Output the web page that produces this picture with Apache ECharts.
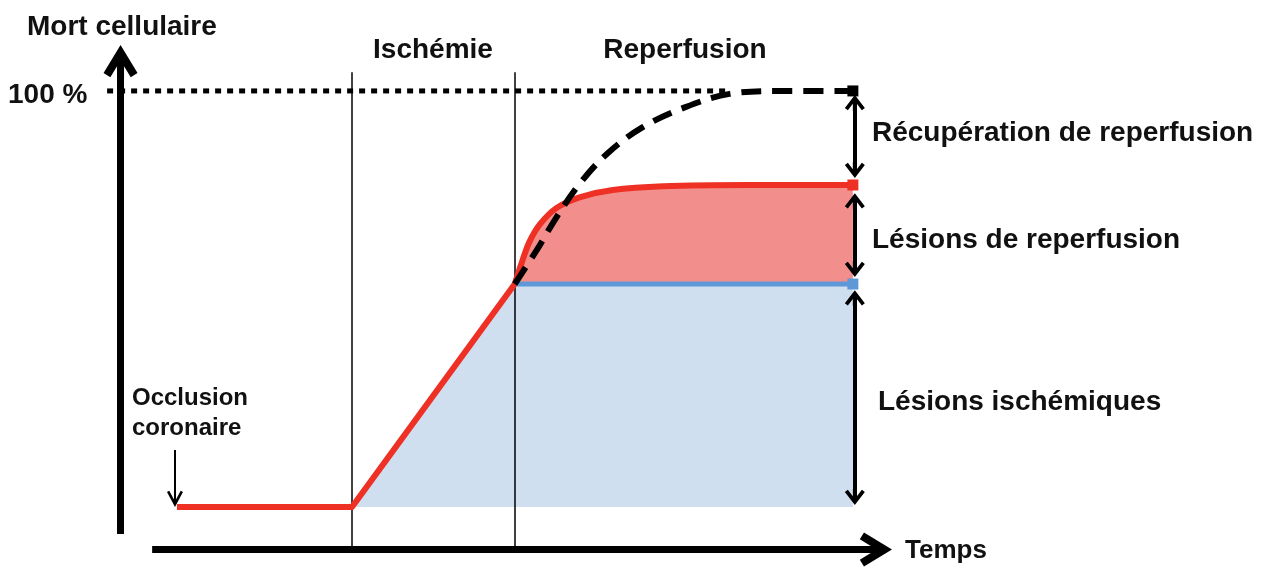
<!DOCTYPE html>
<html>
<head>
<meta charset="utf-8">
<title>Mort cellulaire - ischémie / reperfusion</title>
<script src="https://cdn.jsdelivr.net/npm/echarts@6/dist/echarts.min.js"></script>
<style>
html, body { margin: 0; padding: 0; background: #fff; }
#chart { width: 1271px; height: 569px; }
</style>
</head>
<body>
<div id="chart"></div>
<script>
// temps (unités arbitraires) et mort cellulaire (%)
const ischemiaTime = [9.75, 31.9, 52.5]
const ischemiaDeath = [0, 0, 53.6]

const ischemicFloorTime = [31.9, 52.5, 95.3]
const ischemicFloorDeath = [0, 53.6, 53.6]

const reperfTime = [52.5, 53.5, 54.4, 55.7, 57.8, 60.8, 64.9, 71.3, 81.9, 95.3]
const reperfDeath = [53.6, 59.4, 63.9, 68.0, 71.9, 74.5, 76.2, 77.1, 77.4, 77.4]

const noReperfTime = [52.5, 55.3, 57.8, 60.8, 64.3, 68.7, 74.1, 79.7, 86.5, 95.3]
const noReperfDeath = [53.6, 61.8, 69.7, 77.9, 85.1, 91.3, 96.1, 99.3, 100, 100]

const fullTime = [0.9, 79.5]
const fullDeath = [100, 100]

const phaseStarts = [31.9, 52.5] // début ischémie, début reperfusion

const FONT = '"Liberation Sans", Arial, sans-serif'
const RED = '#ee3124'
const RED_FILL = '#f28f8c'
const BLUE = '#5e98d6'
const BLUE_FILL = '#cfdff0'

const pts = (xs, ys) => xs.map((x, i) => [x, ys[i]])
// small square at the end of a curve
const withCap = (data) => data.map((p, i) =>
  i === data.length - 1 ? { value: p, symbol: 'rect', symbolSize: 11 } : p)

// open chevrons pointing up (with a short stem so the shaft joins cleanly)
const bigHead = {
  path: 'path://M17,0 L34,28 L27.2,32.2 L20.5,21.2 L20.5,34 L13.5,34 L13.5,21.2 L6.8,32.2 L0,28 Z',
  size: [34, 34]
}
const midHead = {
  path: 'path://M10,0 L20,13 L17,15.3 L12,8.8 L12,16 L8,16 L8,8.8 L3,15.3 L0,13 Z',
  size: [20, 16]
}
const smallHead = {
  path: 'path://M8,0 L16,15 L13.7,16.2 L9,7.4 L9,17 L7,17 L7,7.4 L2.3,16.2 L0,15 Z',
  size: [16, 17]
}

const guide = (from, to, width, endHead, startHead) => [
  {
    coord: from,
    symbol: startHead ? startHead.path : 'none',
    symbolSize: startHead ? startHead.size : 1,
    lineStyle: { width: width, color: '#000', type: 'solid' }
  },
  {
    coord: to,
    symbol: endHead ? endHead.path : 'none',
    symbolSize: endHead ? endHead.size : 1
  }
]

const arrowX = 95.55
const guides = [
  guide([2.6, -6.5], [2.6, 106.95], 7, bigHead),      // axe Mort cellulaire
  guide([6.6, -10.2], [98.1, -10.2], 7, bigHead),     // axe Temps
  guide([phaseStarts[0], -10.2], [phaseStarts[0], 104.5], 1.5),
  guide([phaseStarts[1], -10.2], [phaseStarts[1], 104.5], 1.5),
  guide([9.49, 13.7], [9.49, 2.06], 2, smallHead),    // occlusion coronaire
  guide([arrowX, 97.1], [arrowX, 81.0], 4, midHead, midHead),
  guide([arrowX, 73.5], [arrowX, 57.2], 4, midHead, midHead),
  guide([arrowX, 50.2], [arrowX, 2.42], 4, midHead, midHead)
]

const label = (text, x, y, extra) => ({
  type: 'text',
  x: x,
  y: y,
  silent: true,
  style: Object.assign({
    text: text,
    fill: '#111',
    fontFamily: FONT,
    fontWeight: 'bold',
    fontSize: 28,
    align: 'left',
    verticalAlign: 'middle'
  }, extra || {})
})

const chart = echarts.init(document.getElementById('chart'))

const option = {
  animation: false,
  backgroundColor: '#fff',
  grid: { left: 100, top: 41, width: 869, height: 516 },
  xAxis: { type: 'value', min: 0, max: 110, show: false },
  yAxis: { type: 'value', min: -12, max: 112, show: false },
  series: [
    {
      name: 'Lésions de reperfusion',
      type: 'line',
      data: pts(reperfTime, reperfDeath),
      smooth: 0.35,
      symbol: 'none',
      lineStyle: { width: 0 },
      areaStyle: { color: RED_FILL, opacity: 1, origin: ischemicFloorDeath[2] },
      z: 1,
      silent: true
    },
    {
      name: 'Lésions ischémiques',
      type: 'line',
      data: pts(ischemicFloorTime, ischemicFloorDeath),
      symbol: 'none',
      lineStyle: { width: 0 },
      areaStyle: { color: BLUE_FILL, opacity: 1 },
      z: 2,
      silent: true
    },
    {
      name: '100 %',
      type: 'line',
      data: pts(fullTime, fullDeath),
      symbol: 'none',
      lineStyle: { color: '#000', width: 5, type: [6, 6] },
      z: 3,
      silent: true,
      markLine: {
        silent: true,
        symbol: 'none',
        animation: false,
        label: { show: false },
        emphasis: { disabled: true },
        itemStyle: { color: '#000' },
        lineStyle: { color: '#000', type: 'solid' },
        data: guides
      }
    },
    {
      name: 'Ligne ischémique',
      type: 'line',
      data: withCap(pts(ischemicFloorTime.slice(1), ischemicFloorDeath.slice(1))),
      symbol: 'none',
      itemStyle: { color: BLUE },
      lineStyle: { color: BLUE, width: 5 },
      z: 4,
      silent: true
    },
    {
      name: 'Ischémie',
      type: 'line',
      data: pts(ischemiaTime, ischemiaDeath),
      symbol: 'none',
      lineStyle: { color: RED, width: 6, join: 'round' },
      z: 5,
      silent: true
    },
    {
      name: 'Reperfusion',
      type: 'line',
      data: withCap(pts(reperfTime, reperfDeath)),
      smooth: 0.35,
      symbol: 'none',
      itemStyle: { color: RED },
      lineStyle: { color: RED, width: 6 },
      z: 5,
      silent: true
    },
    {
      name: 'Sans reperfusion',
      type: 'line',
      data: withCap(pts(noReperfTime, noReperfDeath)),
      smooth: 0.35,
      symbol: 'none',
      itemStyle: { color: '#000' },
      lineStyle: { color: '#000', width: 6, type: [20, 11] },
      z: 6,
      silent: true
    }
  ],
  graphic: [
    label('Mort cellulaire', 27, 27),
    label('100 %', 8, 95),
    label('Ischémie', 433, 50, { align: 'center' }),
    label('Reperfusion', 685, 50, { align: 'center' }),
    label('Occlusion\ncoronaire', 132, 413, { fontSize: 24, lineHeight: 30 }),
    label('Temps', 905, 551, { fontSize: 26 }),
    label('Récupération de reperfusion', 872, 133),
    label('Lésions de reperfusion', 872, 240),
    label('Lésions ischémiques', 878, 402)
  ]
}

chart.setOption(option)
</script>
</body>
</html>
